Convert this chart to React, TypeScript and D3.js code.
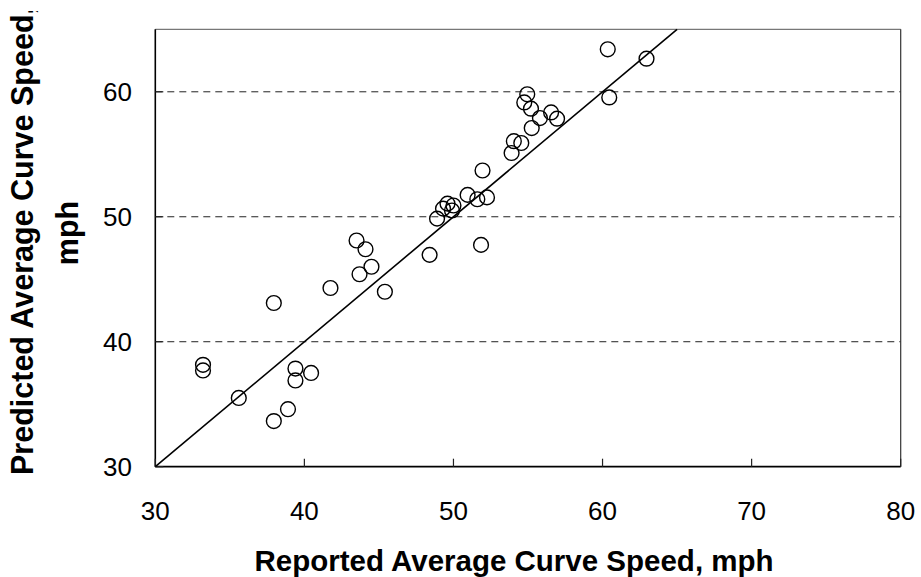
import React from "react";
import * as d3 from "d3";

const reported: number[] = [
  54.95, 54.75, 55.2, 55.8, 56.55, 56.95, 55.25, 54.05, 54.55, 53.9, 51.95, 60.35, 60.45, 62.95,
  48.9, 49.3, 49.6, 49.9, 50.0, 50.95, 51.6, 52.25, 48.4, 51.85,
  43.5, 44.1, 43.7, 44.5, 45.4, 41.75, 37.95, 33.2, 33.2, 35.6, 37.95, 38.9, 39.4, 39.4, 40.45,
];
const predicted: number[] = [
  59.8, 59.15, 58.65, 57.9, 58.35, 57.85, 57.1, 56.05, 55.9, 55.1, 53.7, 63.4, 59.55, 62.65,
  49.85, 50.65, 51.05, 50.5, 50.9, 51.75, 51.4, 51.55, 46.95, 47.75,
  48.1, 47.4, 45.4, 46.0, 44.0, 44.3, 43.1, 38.15, 37.7, 35.5, 33.65, 34.6, 37.85, 36.9, 37.5,
];
const xTicks: number[] = [30, 40, 50, 60, 70, 80];
const yTicks: number[] = [30, 40, 50, 60];
const gridValues: number[] = [40, 50, 60];
const xTitle = "Reported Average Curve Speed, mph";
const yTitleLine1 = "Predicted Average Curve Speed,";
const yTitleLine2 = "mph";

const W = 921;
const H = 577;
const left = 155.3;
const right = 900.7;
const top = 29.3;
const bottom = 466.7;

export default function App() {
  const x = d3.scaleLinear().domain([30, 80]).range([left, right]);
  const y = d3.scaleLinear().domain([30, 65]).range([bottom, top]);
  const font = "Arial, 'Liberation Sans', Helvetica, sans-serif";
  const points = reported.map((r, i) => ({ r, p: predicted[i] }));
  const lineGen = d3
    .line<[number, number]>()
    .x((d) => x(d[0]))
    .y((d) => y(d[1]));
  const diag: [number, number][] = [
    [30, 30],
    [65, 65],
  ];
  return (
    <div style={{ position: "absolute", left: 0, top: 0 }}>
      <svg width={W} height={H} style={{ display: "block", background: "#fff" }}>
        <defs>
          <clipPath id="ytitleclip">
            <rect x={0} y={11} width={150} height={H - 11} />
          </clipPath>
        </defs>
        <rect x={0} y={0} width={W} height={H} fill="#fff" />
        {gridValues.map((g) => (
          <line
            key={"g" + g}
            x1={left}
            x2={right}
            y1={y(g)}
            y2={y(g)}
            stroke="#222"
            strokeWidth={1}
            strokeDasharray="7,5"
          />
        ))}
        <line x1={left} x2={right} y1={top} y2={top} stroke="#777" strokeWidth={1.2} />
        <line x1={right} x2={right} y1={top} y2={bottom} stroke="#333" strokeWidth={1.2} />
        <line x1={left} x2={left} y1={top} y2={bottom} stroke="#000" strokeWidth={1.6} />
        <line x1={left} x2={right} y1={bottom} y2={bottom} stroke="#000" strokeWidth={1.8} />
        {xTicks.map((t) => (
          <line key={"xt" + t} x1={x(t)} x2={x(t)} y1={bottom} y2={bottom - 8} stroke="#222" strokeWidth={1.2} />
        ))}
        {yTicks.map((t) => (
          <line key={"yt" + t} x1={left} x2={left + 8} y1={y(t)} y2={y(t)} stroke="#222" strokeWidth={1.2} />
        ))}
        <path d={lineGen(diag) || ""} stroke="#000" strokeWidth={1.6} fill="none" />
        {points.map((d, i) => (
          <circle
            key={"p" + i}
            cx={x(d.r)}
            cy={y(d.p)}
            r={7.4}
            fill="none"
            stroke="#000"
            strokeWidth={1.4}
          />
        ))}
        {xTicks.map((t) => (
          <text
            key={"xl" + t}
            x={x(t)}
            y={520}
            textAnchor="middle"
            fontFamily={font}
            fontSize={26}
            fill="#000"
          >
            {t}
          </text>
        ))}
        {yTicks.map((t) => (
          <text
            key={"yl" + t}
            x={132}
            y={y(t) + 9.3}
            textAnchor="end"
            fontFamily={font}
            fontSize={26}
            fill="#000"
          >
            {t}
          </text>
        ))}
        <text
          x={514}
          y={571}
          textAnchor="middle"
          fontFamily={font}
          fontSize={29.5}
          fontWeight="bold"
          fill="#000"
        >
          {xTitle}
        </text>
        <g clipPath="url(#ytitleclip)">
          <text
            transform="translate(33, 475) rotate(-90)"
            textAnchor="start"
            fontFamily={font}
            fontSize={30.5}
            fontWeight="bold"
            fill="#000"
          >
            {yTitleLine1}
          </text>
        </g>
        <text
          transform="translate(78, 233) rotate(-90)"
          textAnchor="middle"
          fontFamily={font}
          fontSize={30.5}
          fontWeight="bold"
          fill="#000"
        >
          {yTitleLine2}
        </text>
      </svg>
    </div>
  );
}
